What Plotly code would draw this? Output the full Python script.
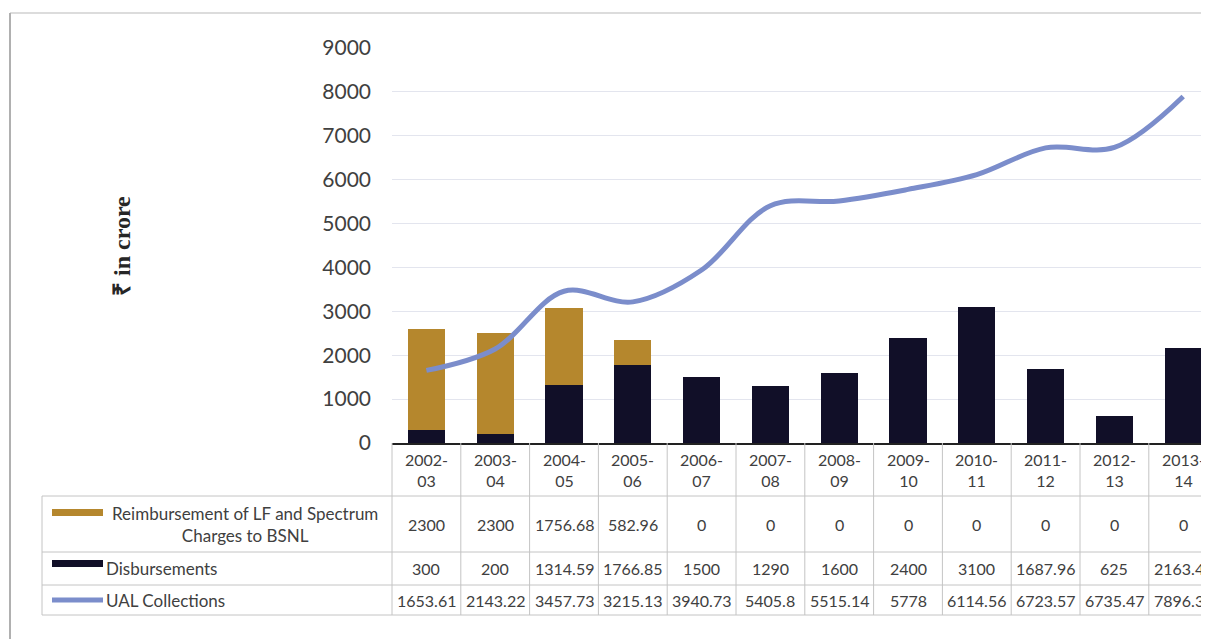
import plotly.graph_objects as go

years = ["2002-03", "2003-04", "2004-05", "2005-06", "2006-07", "2007-08",
         "2008-09", "2009-10", "2010-11", "2011-12", "2012-13", "2013-14"]
reimbursement = [2300, 2300, 1756.68, 582.96, 0, 0, 0, 0, 0, 0, 0, 0]
disbursements = [300, 200, 1314.59, 1766.85, 1500, 1290, 1600, 2400, 3100, 1687.96, 625, 2163.45]
ual_collections = [1653.61, 2143.22, 3457.73, 3215.13, 3940.73, 5405.8, 5515.14, 5778,
                   6114.56, 6723.57, 6735.47, 7896.39]
y_ticks = [0, 1000, 2000, 3000, 4000, 5000, 6000, 7000, 8000, 9000]

name_reimb = "Reimbursement of LF and Spectrum Charges to BSNL"
name_disb = "Disbursements"
name_ual = "UAL Collections"

GOLD = "#b5872d"
NAVY = "#110f28"
BLUE = "#7b8dcb"
GRID = "#c4c4c4"
TXT = "#404040"
FONT = "Lato"

OFF = 8  # page offset of the plot div
W, H = 1209 - OFF, 639 - OFF
L, T = 392 - OFF, 48 - OFF
B = H - (443 - OFF)
PW, PH = W - L, H - T - B


def px(x):
    return (x - OFF - L) / PW


def py(y):
    return (H - B - (y - OFF)) / PH


fig = go.Figure()
fig.add_trace(go.Bar(x=years, y=disbursements, name=name_disb, marker_color=NAVY,
                     marker_line_width=0, width=0.54))
fig.add_trace(go.Bar(x=years, y=reimbursement, name=name_reimb, marker_color=GOLD,
                     marker_line_width=0, width=0.54))
fig.add_trace(go.Scatter(x=years, y=ual_collections, name=name_ual, mode="lines",
                         line=dict(color=BLUE, width=5, shape="spline", smoothing=1.0)))

shapes = []
ann = []

# outer frame
shapes.append(dict(type="line", xref="paper", yref="paper", x0=px(10), x1=px(1215),
                   y0=py(13), y1=py(13), line=dict(color="#d0d0d0", width=1.5)))
shapes.append(dict(type="line", xref="paper", yref="paper", x0=px(10), x1=px(10),
                   y0=py(13), y1=py(645), line=dict(color="#b0b0b0", width=2)))

# data table lines
row_lines = [496, 552, 585, 615]
for yy in row_lines:
    shapes.append(dict(type="line", xref="paper", yref="paper", x0=px(42), x1=1.02,
                       y0=py(yy), y1=py(yy), line=dict(color=GRID, width=1)))
shapes.append(dict(type="line", xref="paper", yref="paper", x0=px(42), x1=px(42),
                   y0=py(496), y1=py(615), line=dict(color=GRID, width=1)))
shapes.append(dict(type="line", xref="paper", yref="paper", x0=0, x1=0,
                   y0=py(443), y1=py(615), line=dict(color=GRID, width=1)))
for i in range(len(years)):
    shapes.append(dict(type="line", xref="x", yref="paper", x0=i + 0.5, x1=i + 0.5,
                       y0=py(443), y1=py(615), line=dict(color=GRID, width=1)))

# legend keys
shapes.append(dict(type="rect", xref="paper", yref="paper", x0=px(52), x1=px(103),
                   y0=py(516), y1=py(509), fillcolor=GOLD, line_width=0))
shapes.append(dict(type="rect", xref="paper", yref="paper", x0=px(52), x1=px(103),
                   y0=py(567), y1=py(560), fillcolor=NAVY, line_width=0))
shapes.append(dict(type="line", xref="paper", yref="paper", x0=px(52), x1=px(103),
                   y0=py(600), y1=py(600), line=dict(color=BLUE, width=5)))

ann.append(dict(xref="paper", yref="paper", x=px(245), y=py(524),
                text="Reimbursement of LF and Spectrum<br>Charges to BSNL",
                showarrow=False, align="center", xanchor="center", yanchor="middle",
                font=dict(family=FONT, size=17, color=TXT)))
ann.append(dict(xref="paper", yref="paper", x=px(104), y=py(568), text=name_disb,
                showarrow=False, xanchor="left", yanchor="middle",
                font=dict(family=FONT, size=17, color=TXT)))
ann.append(dict(xref="paper", yref="paper", x=px(104), y=py(600), text=name_ual,
                showarrow=False, xanchor="left", yanchor="middle",
                font=dict(family=FONT, size=17, color=TXT)))


def fmt(v):
    return f"{v:g}"


rows = [(reimbursement, 524), (disbursements, 568), (ual_collections, 600)]
for i, yr in enumerate(years):
    ann.append(dict(xref="x", yref="paper", x=yr, y=py(470),
                    text=yr.replace("-", "-<br>"), showarrow=False,
                    xanchor="center", yanchor="middle", align="center",
                    font=dict(family=FONT, size=16, color=TXT)))
    for vals, yy in rows:
        ann.append(dict(xref="x", yref="paper", x=yr, y=py(yy), text=fmt(vals[i]),
                        showarrow=False, xanchor="center", yanchor="middle",
                        font=dict(family=FONT, size=16, color=TXT)))

# y axis title
ann.append(dict(xref="paper", yref="paper", x=px(122), y=py(246), text="<b>₹ in crore</b>",
                textangle=-90, showarrow=False, xanchor="center", yanchor="middle",
                font=dict(family="Liberation Serif", size=24, color="#262626")))

fig.update_layout(
    width=W, height=H,
    margin=dict(l=L, r=0, t=T, b=B, pad=0),
    barmode="stack",
    showlegend=False,
    paper_bgcolor="white",
    plot_bgcolor="white",
    shapes=shapes,
    annotations=ann,
    xaxis=dict(type="category", range=[-0.5, 11.375], showticklabels=False,
               showgrid=False, zeroline=False, showline=True, linecolor="#222222",
               linewidth=2, ticks=""),
    yaxis=dict(range=[0, 9000], tickvals=y_ticks, showgrid=True, gridcolor="#e3e5ee",
               gridwidth=1, zeroline=False, showline=False, ticks="",
               ticklabelstandoff=20,
               tickfont=dict(family=FONT, size=21, color=TXT)),
)

fig.write_html("out.html")
